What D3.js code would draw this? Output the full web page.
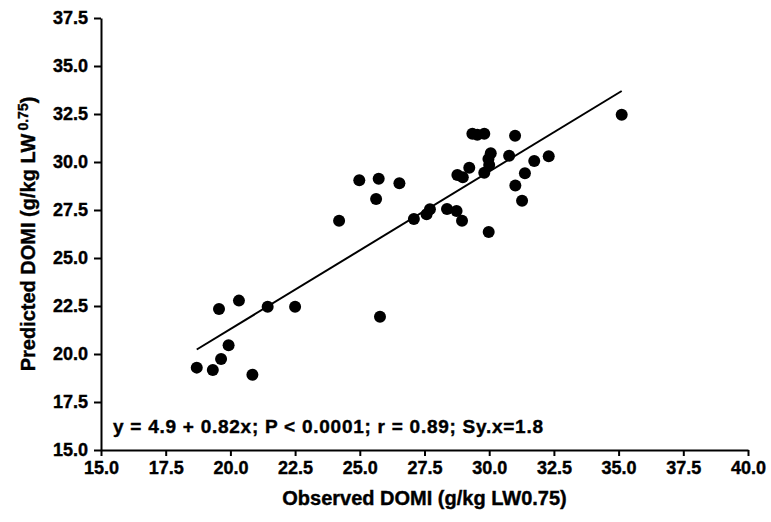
<!DOCTYPE html>
<html>
<head>
<meta charset="utf-8">
<script src="https://cdn.jsdelivr.net/npm/d3@7"></script>
<style>
  body { margin: 0; background: #fff; }
  text { font-family: "Liberation Sans", Arial, Helvetica, sans-serif; font-weight: bold;
         stroke: #000; stroke-width: 0.4px; }
</style>
</head>
<body>
<script>

// observed and predicted DOMI (g/kg LW0.75)
var observed = [18.70, 19.32, 19.64, 19.93, 19.56, 20.33, 20.85, 21.44, 22.50, 24.20,
                24.98, 25.73, 25.63, 26.53, 25.78, 27.09, 27.58, 27.71, 28.37, 28.74,
                28.95, 28.77, 28.98, 29.23, 29.35, 29.54, 29.81, 29.81, 30.00, 29.97,
                30.06, 29.98, 30.77, 31.00, 31.01, 31.38, 31.27, 31.74, 32.30, 35.12];
var predicted = [19.29, 19.17, 19.74, 20.45, 22.34, 22.78, 18.92, 22.46, 22.46, 26.94,
                 29.05, 29.13, 28.07, 28.89, 21.94, 27.03, 27.28, 27.54, 27.55, 27.45,
                 26.94, 29.32, 29.20, 29.70, 31.47, 31.42, 31.47, 29.44, 29.84, 30.16,
                 30.45, 26.35, 30.33, 31.37, 28.77, 29.41, 27.98, 30.05, 30.30, 32.46];

// regression: y = 4.9 + 0.82x
var intercept = 4.9, slope = 0.82;
var xTicks = [15, 17.5, 20, 22.5, 25, 27.5, 30, 32.5, 35, 37.5, 40];
var yTicks = [15, 17.5, 20, 22.5, 25, 27.5, 30, 32.5, 35, 37.5];
var statsText = "y = 4.9 + 0.82x; P < 0.0001; r = 0.89; Sy.x=1.8";

var width = 771, height = 522;
var margin = {top: 18, right: 23, bottom: 72, left: 101};

var svg = d3.select("body")
            .append("svg")
            .attr("width", width)
            .attr("height", height);

// scales
var x = d3.scaleLinear()
          .domain([15, 40])
          .range([margin.left, width - margin.right]);

var y = d3.scaleLinear()
          .domain([15, 37.5])
          .range([height - margin.bottom, margin.top]);

var fmt = d3.format(".1f");

// x axis
svg.append("g")
    .attr("transform", "translate(0," + y(15) + ")")
    .call(d3.axisBottom(x).tickValues(xTicks).tickFormat(fmt).tickSize(6).tickPadding(5).tickSizeOuter(0));

// y axis
svg.append("g")
    .attr("transform", "translate(" + x(15) + ",0)")
    .call(d3.axisLeft(y).tickValues(yTicks).tickFormat(fmt).tickSize(7).tickPadding(6).tickSizeOuter(0));

svg.selectAll(".domain, .tick line")
    .style("stroke", "#000")
    .style("stroke-width", 2);

svg.selectAll(".tick text")
    .style("font-size", "18px")
    .style("fill", "#000");

// axis titles
svg.append("text")
    .attr("x", (x(15) + x(40)) / 2)
    .attr("y", 505)
    .style("text-anchor", "middle")
    .style("font-size", "20px")
    .text("Observed DOMI (g/kg LW0.75)");

var yTitle = svg.append("text")
    .attr("transform", "translate(35," + (y(15) + y(37.5)) / 2 + ") rotate(-90)")
    .style("text-anchor", "middle")
    .style("font-size", "20px");
yTitle.append("tspan").text("Predicted DOMI (g/kg LW");
yTitle.append("tspan").attr("dx", "3").attr("dy", "-0.5em").style("font-size", "14px").text("0.75");
yTitle.append("tspan").attr("dy", "0.35em").text(")");

// regression line over the observed range
var xr = d3.extent(observed);
svg.append("line")
    .attr("x1", x(xr[0]))
    .attr("y1", y(intercept + slope * xr[0]))
    .attr("x2", x(xr[1]))
    .attr("y2", y(intercept + slope * xr[1]))
    .style("stroke", "#000")
    .style("stroke-width", 2);

// points
svg.append("g")
    .selectAll("circle")
    .data(observed)
    .enter().append("circle")
    .attr("cx", function(d) { return x(d); })
    .attr("cy", function(d, i) { return y(predicted[i]); })
    .attr("r", 6)
    .style("fill", "#000");

// stats
svg.append("text")
    .attr("x", 113)
    .attr("y", 433)
    .attr("textLength", 430)
    .attr("lengthAdjust", "spacing")
    .style("font-size", "19px")
    .text(statsText);

</script>
</body>
</html>
